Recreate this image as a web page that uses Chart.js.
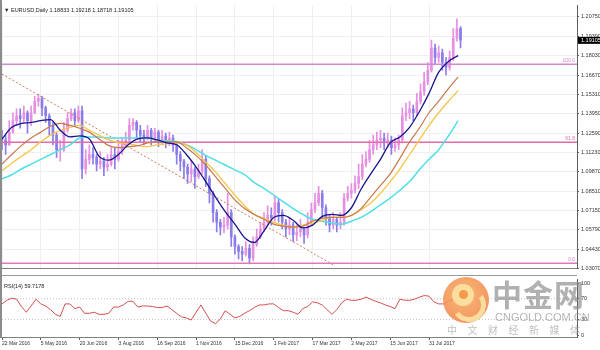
<!DOCTYPE html>
<html>
<head>
<meta charset="utf-8">
<title>EURUSD Daily</title>
<script src="https://cdn.jsdelivr.net/npm/chart.js@4.4.1/dist/chart.umd.min.js"></script>
<style>
  html, body { margin: 0; padding: 0; background: #fff; }
  #wrap { position: relative; width: 600px; height: 350px; overflow: hidden; background: #fff; }
  canvas { position: absolute; left: 0; }
  #main { top: 0; }
  #rsi { top: 274px; }
  .edge { position: absolute; background: #8c8c8c; }
  .logo { position: absolute; left: 443px; top: 277px; width: 46px; height: 46px; border-radius: 50%;
          background: radial-gradient(circle at 45% 40%, #f8ac5c 0%, #f28c4b 60%, #ec7242 100%); opacity: .85; }
  .sw1 { position: absolute; left: 452px; top: 284px; width: 22px; height: 22px; border-radius: 50%; background: #fbe4a4; opacity: .9; }
  .sw2 { position: absolute; left: 459px; top: 290px; width: 9px; height: 9px; border-radius: 50%; background: #f39a4e; }
  .sw3 { position: absolute; left: 452px; top: 288px; width: 24px; height: 24px; border-radius: 50%;
         border: 5px solid transparent; border-right-color: #fbe4a4; border-bottom-color: #fbe4a4; transform: rotate(10deg); opacity: .9; }
  .cn { position: absolute; left: 492px; top: 275px; font: bold 30px "Noto Sans CJK SC", sans-serif; line-height: 36px;
        color: rgba(135,135,135,.65); letter-spacing: 1px; white-space: nowrap; }
  .en { position: absolute; left: 495px; top: 311px; font: 11px "Liberation Sans", Arial, sans-serif; line-height: 12px;
        color: rgba(150,150,150,.7); white-space: nowrap; }
  .sub { position: absolute; left: 447px; top: 324px; font: 10px "Noto Sans CJK SC", sans-serif; line-height: 12px;
         color: rgba(160,160,160,.65); letter-spacing: 10.5px; white-space: nowrap; }
</style>
</head>
<body>
<div id="wrap">
  <canvas id="main" width="600" height="274"></canvas>
  <canvas id="rsi" width="600" height="76"></canvas>
  <div class="edge" style="left:0;top:0;width:2px;height:338px"></div>
  <div class="edge" style="left:2px;top:275px;width:575px;height:1px;background:#9a9a9a"></div>
  <div class="logo"></div>
  <div class="sw1"></div>
  <div class="sw3"></div>
  <div class="sw2"></div>
  <div class="cn">中金网</div>
  <div class="en">CNGOLD.COM.CN</div>
  <div class="sub">中文财经新媒体</div>
</div>
<script>
// time axis: index = trading day since 22 Mar 2016
const dateLabels = ['22 Mar 2016', '5 May 2016', '20 Jun 2016', '3 Aug 2016', '16 Sep 2016', '1 Nov 2016',
                    '15 Dec 2016', '1 Feb 2017', '17 Mar 2017', '2 May 2017', '15 Jun 2017', '31 Jul 2017'];
const dateIdx = [0, 32, 64, 96, 128, 160, 192, 224, 256, 288, 320, 352];
const xMax = 474;

const priceTicks = [1.0307, 1.0443, 1.0579, 1.0715, 1.0851, 1.0987, 1.1123,
                    1.1259, 1.1395, 1.1531, 1.1667, 1.1803, 1.1939, 1.2075];
const priceMin = 1.0307, priceMax = 1.21566;

const lastBar = { open: 1.18833, high: 1.19218, low: 1.18718, close: 1.19105 };

// fibonacci levels and trend line
const fibPrices = [1.1742, 1.1195, 1.0345];
const fibNames = ['100.0', '61.8', '0.0'];
const trendIdx = [0, 274.5];
const trendPrices = [1.1674, 1.0327];

// candles, one per 3 trading days
const candleStep = 3;
const firstOpen = 1.1218;
const highs = [
  1.1279,1.1245,1.1347,1.1402,1.1429,1.1429,1.1449,1.1415,1.1449,1.1517,
  1.1531,1.1517,1.1449,1.1395,1.1334,1.1259,1.1211,1.1334,1.1402,1.1429,
  1.1429,1.1449,1.1449,1.1143,1.1177,1.1157,1.1109,1.1130,1.1089,1.1109,
  1.1157,1.1157,1.1211,1.1225,1.1266,1.1361,1.1361,1.1347,1.1313,1.1279,
  1.1313,1.1293,1.1293,1.1279,1.1279,1.1259,1.1266,1.1245,1.1198,1.1130,
  1.1075,1.1041,1.1062,1.1021,1.1041,1.1143,1.1096,1.0960,1.0851,1.0722,
  1.0654,1.0667,1.0837,1.0722,1.0545,1.0477,1.0463,1.0497,1.0477,1.0531,
  1.0586,1.0633,1.0701,1.0749,1.0735,1.0817,1.0796,1.0722,1.0654,1.0667,
  1.0633,1.0613,1.0654,1.0599,1.0701,1.0769,1.0837,1.0885,1.0858,1.0756,
  1.0681,1.0701,1.0667,1.0701,1.0837,1.0885,1.0905,1.0960,1.1041,1.1109,
  1.1130,1.1211,1.1245,1.1266,1.1279,1.1259,1.1259,1.1239,1.1225,1.1245,
  1.1436,1.1470,1.1483,1.1456,1.1538,1.1606,1.1687,1.1755,1.1912,1.1885,
  1.1871,1.1850,1.1789,1.1837,1.1993,1.2061,1.2007
];
const lows = [
  1.1143,1.1109,1.1171,1.1259,1.1313,1.1293,1.1334,1.1259,1.1313,1.1395,
  1.1449,1.1381,1.1334,1.1245,1.1177,1.1089,1.1062,1.1130,1.1266,1.1347,
  1.1313,1.1334,1.0939,1.0973,1.1041,1.1041,1.0994,1.1007,1.0960,1.0994,
  1.1028,1.1007,1.1062,1.1109,1.1157,1.1198,1.1279,1.1225,1.1198,1.1177,
  1.1211,1.1177,1.1198,1.1164,1.1177,1.1157,1.1171,1.1130,1.1041,1.0994,
  1.0939,1.0905,1.0919,1.0871,1.0939,1.0973,1.0885,1.0769,1.0633,1.0565,
  1.0545,1.0559,1.0586,1.0463,1.0409,1.0375,1.0361,1.0395,1.0341,1.0361,
  1.0463,1.0518,1.0565,1.0613,1.0613,1.0640,1.0633,1.0586,1.0531,1.0545,
  1.0497,1.0504,1.0531,1.0484,1.0524,1.0613,1.0701,1.0749,1.0667,1.0613,
  1.0565,1.0586,1.0565,1.0586,1.0613,1.0783,1.0803,1.0837,1.0871,1.0932,
  1.1021,1.1055,1.1109,1.1143,1.1157,1.1143,1.1157,1.1109,1.1130,1.1143,
  1.1191,1.1347,1.1361,1.1347,1.1381,1.1463,1.1524,1.1599,1.1687,1.1742,
  1.1755,1.1701,1.1667,1.1701,1.1769,1.1905,1.1857
];
const closes = [
  1.1211,1.1177,1.1266,1.1347,1.1381,1.1361,1.1402,1.1347,1.1402,1.1483,
  1.1504,1.1436,1.1381,1.1313,1.1245,1.1143,1.1143,1.1279,1.1361,1.1402,
  1.1347,1.1415,1.1007,1.1075,1.1109,1.1089,1.1041,1.1062,1.1021,1.1041,
  1.1109,1.1075,1.1130,1.1177,1.1211,1.1313,1.1334,1.1279,1.1245,1.1225,
  1.1279,1.1225,1.1266,1.1211,1.1239,1.1211,1.1225,1.1177,1.1109,1.1062,
  1.1021,1.0973,1.1007,1.0953,1.0994,1.1075,1.0939,1.0837,1.0701,1.0633,
  1.0599,1.0613,1.0701,1.0531,1.0463,1.0429,1.0409,1.0450,1.0382,1.0477,
  1.0531,1.0586,1.0633,1.0681,1.0667,1.0769,1.0701,1.0633,1.0586,1.0613,
  1.0545,1.0565,1.0586,1.0545,1.0633,1.0722,1.0769,1.0837,1.0735,1.0667,
  1.0613,1.0654,1.0613,1.0633,1.0803,1.0837,1.0858,1.0905,1.0953,1.1041,
  1.1075,1.1143,1.1177,1.1211,1.1225,1.1198,1.1211,1.1157,1.1177,1.1211,
  1.1381,1.1402,1.1429,1.1402,1.1483,1.1551,1.1619,1.1701,1.1857,1.1789,
  1.1823,1.1755,1.1721,1.1789,1.1925,1.1993,1.1911
];

// moving averages, sampled every 8 trading days
const maStep = 8;
const maNavy = [
  1.1218,1.1300,1.1327,1.1334,1.1347,1.1354,1.1279,1.1232,1.1239,1.1218,
  1.1096,1.1069,1.1109,1.1177,1.1218,1.1225,1.1211,1.1191,1.1177,1.1109,
  1.1021,1.0919,1.0810,1.0708,1.0620,1.0525,1.0491,1.0572,1.0667,1.0681,
  1.0647,1.0593,1.0613,1.0674,1.0688,1.0681,1.0735,1.0865,1.0973,1.1075,
  1.1191,1.1232,1.1300,1.1409,1.1538,1.1687,1.1762,1.1803
];
const maBrown = [
  1.1041,1.1109,1.1171,1.1225,1.1266,1.1307,1.1327,1.1313,1.1293,1.1266,
  1.1218,1.1171,1.1157,1.1164,1.1171,1.1191,1.1198,1.1198,1.1198,1.1157,
  1.1103,1.1035,1.0953,1.0871,1.0790,1.0729,1.0688,1.0654,1.0620,1.0606,
  1.0599,1.0606,1.0640,1.0661,1.0667,1.0667,1.0681,1.0729,1.0810,1.0892,
  1.0973,1.1082,1.1198,1.1293,1.1402,1.1483,1.1572,1.1653
];
const maGold = [
  1.0994,1.1048,1.1096,1.1143,1.1198,1.1245,1.1279,1.1300,1.1313,1.1279,
  1.1245,1.1211,1.1191,1.1184,1.1171,1.1164,1.1177,1.1184,1.1191,1.1177,
  1.1123,1.1055,1.0987,1.0905,1.0824,1.0749,1.0688,1.0661,1.0633,1.0613,
  1.0599,1.0613,1.0627,1.0647,1.0667,1.0667,1.0681,1.0722,1.0769,1.0837,
  1.0919,1.1007,1.1109,1.1211,1.1313,1.1402,1.1483,1.1558
];
const maCyan = [
  1.0939,1.0967,1.1007,1.1041,1.1075,1.1109,1.1143,1.1177,1.1225,1.1232,
  1.1232,1.1225,1.1225,1.1225,1.1225,1.1225,1.1211,1.1205,1.1198,1.1177,
  1.1143,1.1103,1.1069,1.1035,1.1001,1.0967,1.0912,1.0871,1.0824,1.0776,
  1.0729,1.0688,1.0654,1.0640,1.0627,1.0620,1.0640,1.0667,1.0708,1.0756,
  1.0803,1.0858,1.0919,1.1001,1.1075,1.1143,1.1239,1.1347
];

// RSI(14), sampled every 4 trading days
const rsiStep = 4;
const rsi14 = [
  60,67,71,69,55,44,56,69,60,56,
  49,40,36,60,60,51,54,42,42,44,
  40,40,42,54,54,58,65,65,54,56,
  56,55,53,53,56,49,42,35,33,29,
  44,58,42,27,22,31,47,40,33,36,
  42,47,53,58,58,60,60,53,47,47,
  44,40,51,55,64,62,58,49,40,49,
  62,69,67,67,69,73,69,65,62,58,
  55,51,69,67,67,69,73,76,75,64,
  60,60,65,69,59.7178
];
const rsiLast = 59.7178;
const rsiTicks = [0, 30, 70, 100];
const rsiLevels = [30, 70];
const rsiMin = -3.6, rsiMax = 107.3;

Chart.defaults.font.family = '"Liberation Sans", Arial, sans-serif';

const upColor = '#e690e2';
const downColor = '#8a7ce9';
const fibColors = ['#d688cf', '#e56ba8', '#e07ab8'];

const opens = closes.map((c, i) => i === 0 ? firstOpen : closes[i - 1]);
const candleX = closes.map((c, i) => i * candleStep);
const barColors = closes.map((c, i) => c >= opens[i] ? upColor : downColor);

function series(values, step) {
  return values.map((v, i) => ({ x: i * step, y: v }));
}
function flatLine(v) {
  return [{ x: 0, y: v }, { x: xMax, y: v }];
}
function maLine(values, color, width, order) {
  return { type: 'line', data: series(values, maStep), borderColor: color, borderWidth: width,
           pointRadius: 0, tension: 0.4, cubicInterpolationMode: 'monotone', order: order };
}

const titleText = '\u25BC EURUSD,Daily ' + lastBar.open.toFixed(5) + ' ' + lastBar.high.toFixed(5) + ' ' +
                  lastBar.low.toFixed(5) + ' ' + lastBar.close.toFixed(5);

const mainText = {
  id: 'mainText',
  afterDraw(chart) {
    const { ctx, chartArea, scales: { y } } = chart;
    ctx.save();
    ctx.font = '5.5px "Liberation Sans", Arial, sans-serif';
    ctx.fillStyle = '#222';
    ctx.textBaseline = 'middle';
    ctx.textAlign = 'left';
    ctx.fillText(titleText, chartArea.left + 2, chartArea.top + 5);

    ctx.font = '5px "Liberation Sans", Arial, sans-serif';
    ctx.textAlign = 'right';
    ctx.textBaseline = 'bottom';
    fibPrices.forEach((p, i) => {
      ctx.fillStyle = fibColors[i];
      ctx.fillText(fibNames[i], chartArea.right - 2, y.getPixelForValue(p) - 1);
    });

    const py = y.getPixelForValue(lastBar.close);
    ctx.fillStyle = '#000';
    ctx.fillRect(chartArea.right + 1, py - 3.5, 30, 7);
    ctx.fillStyle = '#fff';
    ctx.font = '5.5px "Liberation Sans", Arial, sans-serif';
    ctx.textAlign = 'left';
    ctx.textBaseline = 'middle';
    ctx.fillText(lastBar.close.toFixed(5), chartArea.right + 4, py);
    ctx.restore();
  }
};

new Chart(document.getElementById('main'), {
  type: 'bar',
  data: {
    datasets: [
      maLine(maNavy, '#16168c', 1.3, 1),
      maLine(maBrown, '#c8784e', 1.2, 2),
      maLine(maGold, '#f3c64a', 1.3, 3),
      maLine(maCyan, '#4fdfe6', 1.5, 4),
      ...fibPrices.map((p, i) => ({ type: 'line', data: flatLine(p), borderColor: fibColors[i],
                                    borderWidth: 1.5, pointRadius: 0, order: 5 })),
      { type: 'line', data: trendIdx.map((x, i) => ({ x: x, y: trendPrices[i] })), borderColor: '#c97b5e',
        borderWidth: 1, borderDash: [2, 2], pointRadius: 0, order: 6 },
      { data: candleX.map((x, i) => ({ x: x, y: [opens[i], closes[i]] })), backgroundColor: barColors,
        barThickness: 2, minBarLength: 1, grouped: false, order: 7 },
      { data: candleX.map((x, i) => ({ x: x, y: [lows[i], highs[i]] })), backgroundColor: barColors,
        barThickness: 1, grouped: false, order: 8 }
    ]
  },
  options: {
    responsive: false,
    animation: false,
    events: [],
    layout: { padding: { left: 2, top: 1, right: 0, bottom: 1 } },
    plugins: { legend: { display: false }, tooltip: { enabled: false } },
    scales: {
      x: {
        type: 'linear', min: 0, max: xMax, offset: false,
        grid: { offset: false, color: '#efefef', drawTicks: false },
        border: { color: '#808080' },
        ticks: { display: false },
        afterBuildTicks: s => { s.ticks = dateIdx.map(v => ({ value: v })); },
        afterFit: s => { s.height = 0; }
      },
      y: {
        position: 'right', min: priceMin, max: priceMax,
        grid: { color: '#efefef', tickColor: '#606060', tickLength: 2 },
        border: { color: '#606060' },
        ticks: { font: { size: 5.5 }, color: '#333', padding: 2, autoSkip: false,
                 callback: v => Number(v).toFixed(5) },
        afterBuildTicks: s => { s.ticks = priceTicks.map(v => ({ value: v })); },
        afterFit: s => { s.width = 23; }
      }
    }
  },
  plugins: [mainText]
});

const rsiText = {
  id: 'rsiText',
  afterDraw(chart) {
    const { ctx, chartArea } = chart;
    ctx.save();
    ctx.font = '5.5px "Liberation Sans", Arial, sans-serif';
    ctx.fillStyle = '#222';
    ctx.textBaseline = 'middle';
    ctx.fillText('RSI(14) ' + rsiLast, chartArea.left + 2, chartArea.top + 7);
    ctx.restore();
  }
};

new Chart(document.getElementById('rsi'), {
  type: 'line',
  data: {
    datasets: [
      { data: series(rsi14, rsiStep), borderColor: '#d03c3c', borderWidth: 0.9, pointRadius: 0, tension: 0, order: 1 },
      ...rsiLevels.map(v => ({ data: flatLine(v), borderColor: '#b5b5b5', borderWidth: 0.8,
                               borderDash: [1, 2], pointRadius: 0, order: 2 }))
    ]
  },
  options: {
    responsive: false,
    animation: false,
    events: [],
    layout: { padding: { left: 2, top: 2, right: 0, bottom: 0 } },
    plugins: { legend: { display: false }, tooltip: { enabled: false } },
    scales: {
      x: {
        type: 'linear', min: 0, max: xMax,
        grid: { drawOnChartArea: false, tickLength: 3, tickColor: '#606060' },
        border: { color: '#808080' },
        ticks: { font: { size: 5 }, color: '#333', padding: 1, align: 'start', maxRotation: 0,
                 autoSkip: false, callback: (v, i) => dateLabels[i] },
        afterBuildTicks: s => { s.ticks = dateIdx.map(v => ({ value: v })); },
        afterFit: s => { s.height = 13; }
      },
      y: {
        position: 'right', min: rsiMin, max: rsiMax,
        grid: { drawOnChartArea: false, tickLength: 2, tickColor: '#606060' },
        border: { color: '#606060' },
        ticks: { font: { size: 5.5 }, color: '#333', padding: 2, autoSkip: false },
        afterBuildTicks: s => { s.ticks = rsiTicks.map(v => ({ value: v })); },
        afterFit: s => { s.width = 23; }
      }
    }
  },
  plugins: [rsiText]
});
</script>
</body>
</html>
